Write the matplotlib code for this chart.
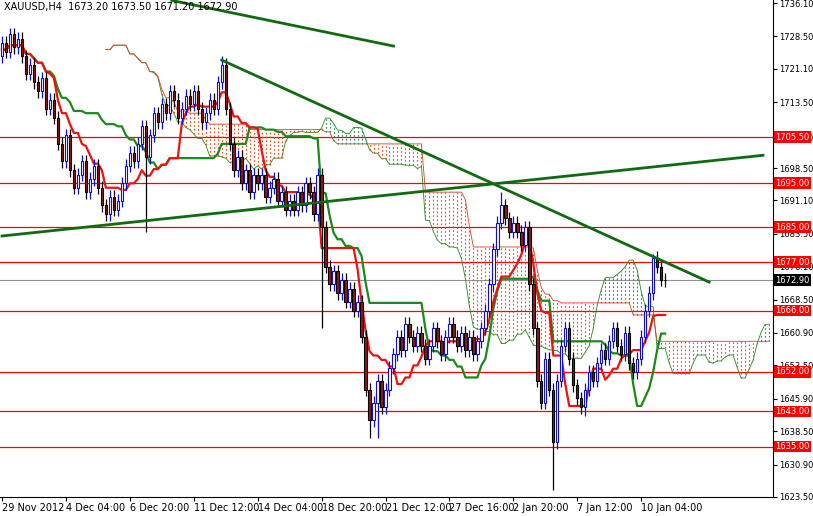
import matplotlib
matplotlib.use("Agg")
import matplotlib.pyplot as plt
import numpy as np
import pandas as pd

closes = [1727,1725,1729,1726,1728,1724,1720,1722,
          1718,1716,1719,1712,1714,1710,1704,1700,
          1706,1698,1694,1697,1700,1693,1696,1699,
          1694,1690,1688,1692,1689,1691,1695,1699,
          1702,1700,1704,1708,1701,1706,1711,1709,
          1713,1711,1716,1714,1710,1712,1715,1713,
          1716,1712,1709,1711,1714,1712,1718,1722,
          1712,1704,1698,1701,1695,1698,1693,1697,
          1695,1697,1692,1694,1696,1691,1693,1689,
          1691,1689,1693,1690,1695,1693,1688,1697,
          1685,1676,1672,1675,1670,1673,1668,1671,
          1666,1668,1660,1648,1641,1645,1650,1644,
          1648,1653,1656,1660,1657,1663,1660,1658,
          1661,1658,1655,1658,1662,1659,1656,1660,
          1663,1660,1658,1661,1657,1660,1656,1659,
          1662,1666,1672,1680,1686,1690,1687,1684,
          1686,1684,1681,1685,1672,1662,1650,1645,
          1655,1648,1636,1650,1658,1662,1655,1649,
          1646,1644,1648,1652,1650,1654,1657,1655,
          1659,1662,1658,1656,1661,1654,1652,1655,
          1660,1666,1670,1678,1676,1673,1672.9]
first_open = 1724
spike_low = {36: 1684, 80: 1662, 92: 1637, 94: 1637, 138: 1625, 146: 1642}
spike_high = {55: 1724, 125: 1693, 163: 1679}

levels = [1705.5, 1695.0, 1685.0, 1677.0, 1666.0, 1652.0, 1643.0, 1635.0]
last_price = 1672.9
yticks = [1736.10, 1728.50, 1721.10, 1713.50, 1705.50, 1698.50, 1691.10, 1683.50,
          1676.10, 1668.50, 1660.90, 1653.50, 1645.90, 1638.50, 1630.90, 1623.50]
xtick_labels = ["29 Nov 2012", "4 Dec 04:00", "6 Dec 20:00", "11 Dec 12:00", "14 Dec 04:00",
                "18 Dec 20:00", "21 Dec 12:00", "27 Dec 16:00", "2 Jan 20:00", "7 Jan 12:00",
                "10 Jan 04:00"]
xtick_pos = [0, 16, 32, 48, 64, 80, 96, 112, 128, 144, 160]
trend1 = ((42.5, 1736.7), (98, 1726.3))
trend2 = ((55, 1723.1), (177, 1672.5))
trend3 = ((0, 1683.0), (190.5, 1701.4))

c = np.array(closes, float)
o = np.concatenate([[first_open], c[:-1]])
h = np.maximum(o, c) + 1.5
l = np.minimum(o, c) - 1.5
for k, v in spike_low.items(): l[k] = v
for k, v in spike_high.items(): h[k] = v
n = len(c)

H = pd.Series(h); L = pd.Series(l)
def mid(p): return (H.rolling(p, min_periods=1).max() + L.rolling(p, min_periods=1).min()) / 2
tenkan = mid(9).values; kijun = mid(26).values
spanA = (tenkan + kijun) / 2; spanB = mid(52).values
xs = np.arange(n) + 26

fig = plt.figure(figsize=(8.13, 5.16), dpi=100)
ax = fig.add_axes([0, 19/516, 773/813, 497/516])
ax.set_xlim(-0.5, 193)
ax.set_ylim(1623.5, 1736.8)

for lv in levels:
    ax.axhline(lv, color='red', lw=0.9, zorder=1)
ax.axhline(last_price, color='#909090', lw=0.8, zorder=1)

ax.plot(xs, spanA, color='#228B22', lw=0.6, zorder=2)
ax.plot(xs, spanB, color='#e04020', lw=0.6, zorder=2)
# dotted cloud columns
for k in range(0, len(xs), 1):
    a, b = spanA[k], spanB[k]
    if abs(a - b) < 0.3:
        continue
    col = '#e05020' if b > a else '#2e8b57'
    ax.vlines(xs[k], min(a, b), max(a, b), colors=col, lw=0.8,
              linestyles=(0, (1.5, 2)), zorder=2)

ax.plot(np.arange(n), kijun, color='#1a8a1a', lw=1.6, zorder=4)
ax.plot(np.arange(n), tenkan, color='#ee1111', lw=1.6, zorder=4)

for i in range(n):
    up = c[i] >= o[i]
    col = '#1010cc' if up else 'black'
    ax.vlines(i, l[i], h[i], color=col, lw=0.9, zorder=5)
    ax.bar(i, abs(c[i]-o[i]) or 0.2, bottom=min(o[i], c[i]), width=0.6,
           facecolor='white' if up else '#8b1a1a', edgecolor=col, lw=0.8, zorder=6)

for (x0, y0), (x1, y1) in [trend1, trend2, trend3]:
    ax.plot([x0, x1], [y0, y1], color='#106b10', lw=2, zorder=7)

ax.yaxis.tick_right()
ax.set_yticks(yticks)
ax.set_yticklabels([f"{t:.2f}" for t in yticks], fontsize=6)
ax.set_xticks(xtick_pos)
ax.set_xticklabels(xtick_labels, fontsize=7, ha='left')
ax.tick_params(length=3, pad=1.5)
for lv in levels:
    ax.text(1.003, lv, f"{lv:.2f}", transform=ax.get_yaxis_transform(), fontsize=6,
            color='white', va='center', ha='left',
            bbox=dict(facecolor='#ff0000', edgecolor='none', pad=1.0), zorder=10)
ax.text(1.003, last_price, f"{last_price:.2f}", transform=ax.get_yaxis_transform(), fontsize=6,
        color='white', va='center', ha='left',
        bbox=dict(facecolor='black', edgecolor='none', pad=1.0), zorder=10)
ax.text(0.005, 0.995, "XAUUSD,H4  1673.20 1673.50 1671.20 1672.90", transform=ax.transAxes,
        fontsize=7, va='top', ha='left', zorder=10)
for s in ['top', 'left']:
    ax.spines[s].set_visible(False)
fig.savefig("out.png", dpi=100)
